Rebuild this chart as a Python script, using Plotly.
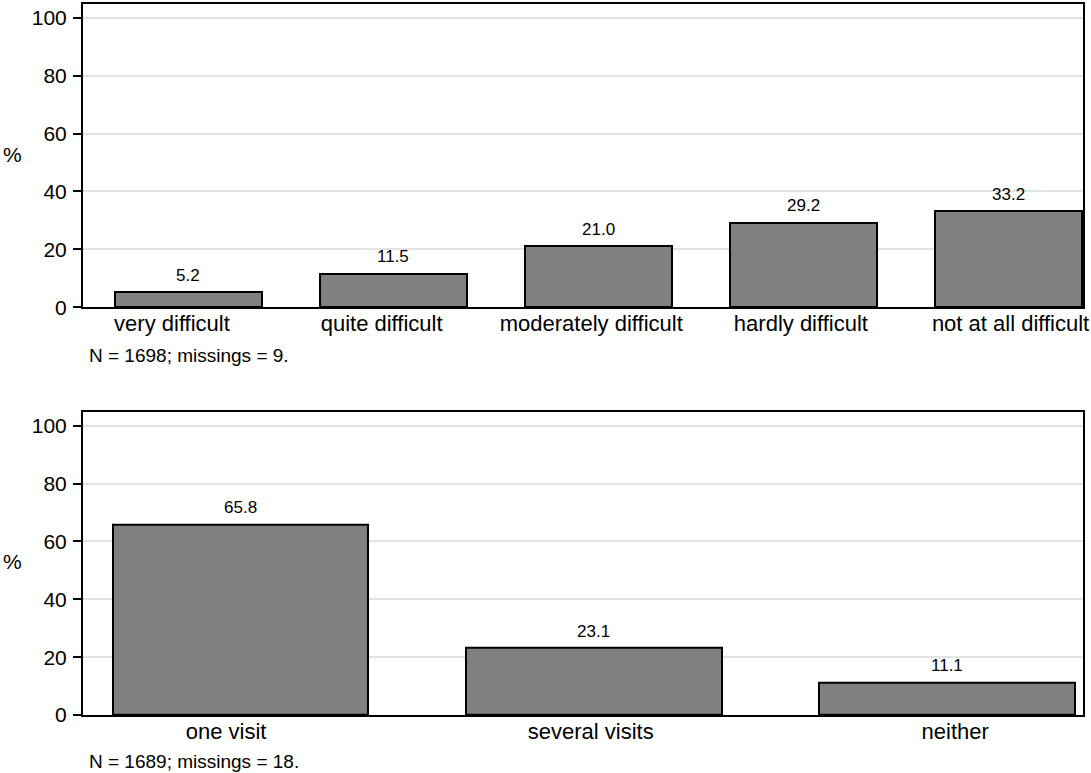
import plotly.graph_objects as go

# Data
difficulty_categories = ["very difficult", "quite difficult", "moderately difficult",
                         "hardly difficult", "not at all difficult"]
difficulty_values = [5.2, 11.5, 21.0, 29.2, 33.2]
difficulty_note = "N = 1698; missings = 9."

visit_categories = ["one visit", "several visits", "neither"]
visit_values = [65.8, 23.1, 11.1]
visit_note = "N = 1689; missings = 18."

y_ticks = [0, 20, 40, 60, 80, 100]

FONT = "Liberation Sans, Arial, sans-serif"
BAR_FILL = "#808080"
GRID = "#e3e3e3"

W, H = 1091, 773
ML, MR, MT, MB = 83, 2, 2, 58
ph = H - MT - MB

def py(px):
    return (H - MB - px) / ph

def pxx(px):
    return (px - ML) / (W - ML - MR)

fig = go.Figure()

top_idx = list(range(len(difficulty_categories)))
bot_idx = list(range(len(visit_categories)))

fig.add_trace(go.Bar(
    x=top_idx, y=difficulty_values, width=0.7153,
    marker=dict(color=BAR_FILL, line=dict(color="black", width=2)),
    xaxis="x", yaxis="y", showlegend=False, hoverinfo="skip"))

fig.add_trace(go.Bar(
    x=bot_idx, y=visit_values, width=0.7234,
    marker=dict(color=BAR_FILL, line=dict(color="black", width=2)),
    xaxis="x2", yaxis="y2", showlegend=False, hoverinfo="skip"))

# invisible carriers so the category-label axes get drawn
fig.add_trace(go.Scatter(
    x=top_idx, y=[0] * len(top_idx), mode="markers",
    marker=dict(opacity=0, size=1), xaxis="x3", yaxis="y",
    showlegend=False, hoverinfo="skip"))
fig.add_trace(go.Scatter(
    x=bot_idx, y=[0] * len(bot_idx), mode="markers",
    marker=dict(opacity=0, size=1), xaxis="x4", yaxis="y2",
    showlegend=False, hoverinfo="skip"))

annotations = []
for i, v in enumerate(difficulty_values):
    annotations.append(dict(x=i, y=v, xref="x", yref="y", text=f"{v:.1f}",
                            showarrow=False, yanchor="middle", yshift=17,
                            font=dict(family=FONT, size=17, color="black")))
for i, v in enumerate(visit_values):
    annotations.append(dict(x=i, y=v, xref="x2", yref="y2", text=f"{v:.1f}",
                            showarrow=False, yanchor="middle", yshift=17,
                            font=dict(family=FONT, size=17, color="black")))

annotations += [
    dict(x=pxx(87), y=py(354), xref="paper", yref="paper", text=difficulty_note,
         showarrow=False, xanchor="left", yanchor="middle",
         font=dict(family=FONT, size=19, color="black")),
    dict(x=pxx(87), y=py(762), xref="paper", yref="paper", text=visit_note,
         showarrow=False, xanchor="left", yanchor="middle",
         font=dict(family=FONT, size=19, color="black")),
    dict(x=pxx(12), y=py(152.5), xref="paper", yref="paper", text="%",
         showarrow=False, xanchor="center", yanchor="middle",
         font=dict(family=FONT, size=21, color="black")),
    dict(x=pxx(12), y=py(561.5), xref="paper", yref="paper", text="%",
         showarrow=False, xanchor="center", yanchor="middle",
         font=dict(family=FONT, size=21, color="black")),
]

yaxis_common = dict(range=[0, 104.83], tickvals=y_ticks, showgrid=True,
                    gridcolor=GRID, gridwidth=2, zeroline=False,
                    showline=True, linecolor="black", linewidth=2, mirror=True,
                    ticks="outside", ticklen=8, tickwidth=2, tickcolor="black",
                    ticklabelstandoff=2,
                    tickfont=dict(family=FONT, size=21, color="black"))
bar_xaxis = dict(showgrid=False, zeroline=False, showline=True,
                 linecolor="black", linewidth=2, mirror=True, ticks="",
                 showticklabels=False)
label_xaxis = dict(showgrid=False, zeroline=False, showline=False, ticks="",
                   ticklabelstandoff=1, ticklabeloverflow="allow",
                   tickfont=dict(family=FONT, size=22, color="black"))

fig.update_layout(
    width=W, height=H,
    margin=dict(l=ML, r=MR, t=MT, b=MB),
    paper_bgcolor="white", plot_bgcolor="white",
    bargap=0,
    xaxis=dict(**bar_xaxis, domain=[0, 1], anchor="y", range=[-0.5141, 4.3647]),
    yaxis=dict(**yaxis_common, domain=[py(306), 1], anchor="x"),
    xaxis2=dict(**bar_xaxis, domain=[0, 1], anchor="y2", range=[-0.4464, 2.3854]),
    yaxis2=dict(**yaxis_common, domain=[0, py(411)], anchor="x2"),
    xaxis3=dict(**label_xaxis, overlaying="x", anchor="y", side="bottom",
                range=[-0.4244, 4.3456], tickvals=top_idx,
                ticktext=difficulty_categories),
    xaxis4=dict(**label_xaxis, overlaying="x2", anchor="y2", side="bottom",
                range=[-0.3926, 2.3504], tickvals=bot_idx,
                ticktext=visit_categories),
    annotations=annotations,
)

fig.write_html("out.html",
               config={"displayModeBar": False},
               post_script="document.body.style.margin='0px';document.body.style.overflow='hidden';")
